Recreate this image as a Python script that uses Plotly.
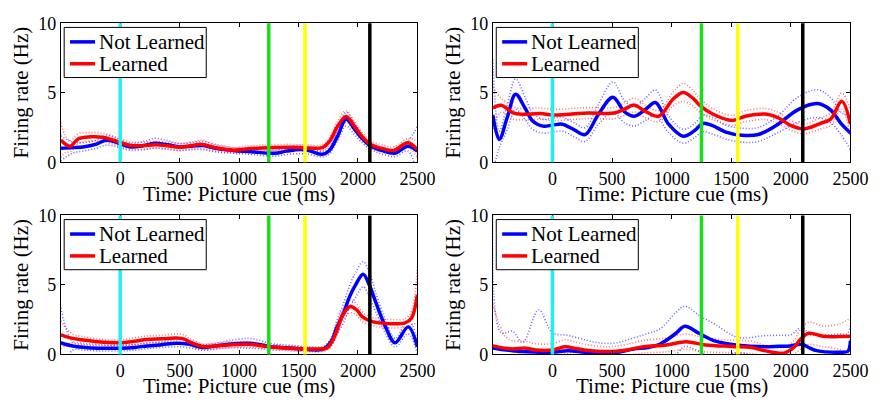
import plotly.graph_objects as go

# ---- shared axis / event settings ----
TIME_TICKS = [0, 500, 1000, 1500, 2000, 2500]
RATE_TICKS = [0, 5, 10]
EVENT_TIMES = [0, 1250, 1555, 2100]
EVENT_COLORS = ["#22f0f0", "#18e018", "#ffff00", "#000000"]
SERIES_NAMES = ["Not Learned", "Learned"]
SERIES_COLORS = ["#0000ff", "#ff0000"]
BAND_COLORS = ["rgba(0,0,255,0.6)", "rgba(255,0,0,0.55)"]

# ---- panel 1 (top left) ----
P1_NL_T = [-500, -400, -300, -200, -120, -40, 0, 90, 200, 290, 400, 500, 600, 700, 800, 950,
           1100, 1300, 1400, 1520, 1600, 1700, 1760, 1830, 1900, 1970, 2030, 2110, 2200, 2310, 2420, 2500]
P1_NL_V = [1.0, 1.05, 1.12, 1.3, 1.58, 1.45, 1.32, 1.1, 1.2, 1.37, 1.25, 1.1, 1.15, 1.2, 1.0, 0.85,
           0.76, 0.64, 0.8, 0.92, 0.8, 0.57, 0.85, 1.9, 3.1, 2.4, 1.75, 1.15, 0.85, 0.65, 1.15, 0.8]
P1_NL_HW = [0.9, 0.4, 0.3, 0.3, 0.35, 0.3, 0.3, 0.25, 0.3, 0.35, 0.3, 0.25, 0.25, 0.3, 0.25, 0.2,
            0.2, 0.2, 0.25, 0.3, 0.25, 0.2, 0.25, 0.35, 0.5, 0.4, 0.3, 0.25, 0.25, 0.25, 0.35, 1.8]
P1_L_T = [-500, -460, -420, -350, -250, -150, -60, 0, 90, 200, 300, 400, 500, 600, 680, 800,
          950, 1100, 1250, 1450, 1600, 1700, 1760, 1830, 1900, 1970, 2030, 2110, 2200, 2300, 2420, 2500]
P1_L_V = [1.6, 1.3, 1.15, 1.7, 1.83, 1.8, 1.6, 1.42, 1.2, 1.2, 1.25, 1.18, 1.08, 1.2, 1.3, 1.05,
          0.87, 0.98, 1.05, 1.08, 1.02, 1.05, 1.5, 2.6, 3.3, 2.6, 1.9, 1.25, 1.0, 0.85, 1.4, 0.9]
P1_L_HW = [1.25, 0.6, 0.4, 0.35, 0.3, 0.3, 0.3, 0.3, 0.25, 0.25, 0.25, 0.25, 0.25, 0.25, 0.3, 0.25,
           0.2, 0.2, 0.2, 0.2, 0.2, 0.2, 0.25, 0.35, 0.4, 0.35, 0.3, 0.25, 0.25, 0.25, 0.3, 0.6]

# ---- panel 2 (top right) ----
P2_NL_T = [-500, -446, -380, -309, -230, -166, -80, 0, 82, 180, 274, 384, 507, 603, 686, 780,
           864, 974, 1097, 1193, 1262, 1344, 1454, 1591, 1728, 1893, 2057, 2222, 2332, 2420, 2500]
P2_NL_V = [3.4, 1.64, 3.2, 4.9, 3.9, 2.97, 2.6, 2.67, 2.74, 2.35, 1.99, 3.42, 4.68, 3.65, 3.31, 3.8,
           4.3, 2.74, 1.87, 2.28, 2.79, 2.63, 2.17, 1.94, 2.0, 2.74, 3.77, 4.22, 3.77, 2.8, 2.1]
P2_NL_HW = [4.0, 0.6, 0.9, 1.1, 0.8, 0.6, 0.5, 0.5, 0.5, 0.5, 0.5, 0.7, 1.1, 0.8, 0.7, 0.8,
            0.9, 0.6, 0.5, 0.5, 0.6, 0.6, 0.5, 0.5, 0.5, 0.6, 0.9, 1.0, 0.9, 0.8, 1.2]
P2_L_T = [-500, -430, -330, -248, -100, 0, 165, 302, 521, 600, 686, 782, 892, 1015, 1097, 1180,
          1234, 1344, 1509, 1619, 1783, 1893, 2002, 2112, 2249, 2332, 2428, 2500]
P2_L_V = [3.9, 4.1, 3.55, 3.45, 3.5, 3.4, 3.47, 3.54, 3.54, 3.8, 4.11, 3.65, 3.31, 4.57, 5.02, 4.6,
          4.11, 3.47, 3.01, 3.31, 3.47, 3.2, 2.63, 2.4, 2.8, 3.08, 4.38, 2.74]
P2_L_HW = [1.5, 0.5, 0.45, 0.4, 0.4, 0.4, 0.4, 0.4, 0.4, 0.45, 0.5, 0.45, 0.4, 0.5, 0.65, 0.55,
           0.5, 0.4, 0.35, 0.4, 0.4, 0.4, 0.35, 0.35, 0.4, 0.45, 0.6, 1.0]

# ---- panel 3 (bottom left) ----
P3_NL_T = [-500, -400, -300, -180, 0, 120, 225, 350, 473, 582, 692, 800, 912, 1077, 1180, 1242,
           1350, 1462, 1599, 1709, 1780, 1819, 1880, 1929, 1980, 2044, 2100, 2148, 2231, 2313, 2423, 2500]
P3_NL_V = [0.84, 0.6, 0.5, 0.45, 0.45, 0.5, 0.61, 0.7, 0.8, 0.73, 0.5, 0.6, 0.73, 0.8, 0.7, 0.57,
           0.5, 0.45, 0.34, 0.39, 1.0, 1.86, 3.0, 4.14, 5.0, 5.77, 4.9, 3.8, 2.0, 0.84, 1.98, 0.55]
P3_NL_HW = [2.5, 0.3, 0.2, 0.2, 0.2, 0.2, 0.2, 0.2, 0.25, 0.25, 0.2, 0.2, 0.25, 0.35, 0.3, 0.25,
            0.2, 0.2, 0.15, 0.15, 0.3, 0.5, 0.7, 0.8, 0.9, 0.9, 0.9, 0.7, 0.5, 0.3, 0.5, 0.5]
P3_L_T = [-500, -400, -324, -187, 0, 120, 225, 350, 473, 540, 582, 692, 800, 912, 1077, 1242,
          1462, 1626, 1736, 1780, 1819, 1870, 1935, 1990, 2038, 2121, 2200, 2286, 2396, 2450, 2500]
P3_L_V = [1.41, 1.15, 1.05, 0.91, 0.84, 0.95, 1.07, 1.12, 1.18, 1.1, 0.9, 0.57, 0.6, 0.68, 0.73, 0.57,
          0.43, 0.39, 0.45, 0.9, 1.64, 2.8, 3.45, 3.2, 2.7, 2.36, 2.25, 2.2, 2.27, 2.6, 4.3]
P3_L_HW = [1.0, 0.3, 0.25, 0.2, 0.2, 0.25, 0.25, 0.25, 0.3, 0.3, 0.25, 0.2, 0.2, 0.2, 0.2, 0.15,
           0.15, 0.15, 0.15, 0.25, 0.35, 0.4, 0.45, 0.4, 0.35, 0.3, 0.3, 0.3, 0.3, 0.5, 2.0]

# ---- panel 4 (bottom right) ----
P4_NL_T = [-500, -430, -335, -250, -115, 0, 132, 269, 400, 543, 680, 800, 900, 1037, 1110, 1229,
           1367, 1559, 1778, 1900, 1998, 2090, 2160, 2217, 2409, 2478, 2500]
P4_NL_V = [0.45, 0.35, 0.27, 0.2, 0.16, 0.16, 0.27, 0.16, 0.12, 0.14, 0.39, 0.5, 0.73, 1.52, 2.02, 1.52,
           0.95, 0.66, 0.55, 0.58, 0.61, 0.73, 0.45, 0.27, 0.16, 0.23, 1.0]
P4_NL_HW = [10.0, 1.2, 1.4, 0.65, 3.05, 1.4, 1.1, 0.9, 0.7, 0.7, 0.8, 1.0, 1.1, 1.5, 1.45, 1.3,
            1.2, 0.55, 0.8, 0.8, 0.8, 1.2, 1.0, 1.1, 1.3, 1.3, 10.0]
P4_L_T = [-500, -400, -335, -225, -143, 0, 104, 200, 269, 461, 626, 763, 955, 1120, 1284, 1504,
          1669, 1778, 1943, 2025, 2080, 2149, 2272, 2400, 2500]
P4_L_V = [0.61, 0.45, 0.39, 0.45, 0.32, 0.32, 0.55, 0.42, 0.32, 0.2, 0.32, 0.55, 0.68, 0.91, 0.68, 0.57,
          0.5, 0.27, 0.09, 0.5, 1.07, 1.52, 1.3, 1.28, 1.3]
P4_L_HW = [3.0, 0.9, 0.6, 0.5, 0.45, 0.45, 0.5, 0.45, 0.4, 0.35, 0.4, 0.45, 0.5, 0.55, 0.5, 0.45,
           0.45, 0.4, 0.4, 0.5, 0.7, 0.8, 0.75, 0.9, 1.3]

PANELS = [
    [(P1_NL_T, P1_NL_V, P1_NL_HW), (P1_L_T, P1_L_V, P1_L_HW)],
    [(P2_NL_T, P2_NL_V, P2_NL_HW), (P2_L_T, P2_L_V, P2_L_HW)],
    [(P3_NL_T, P3_NL_V, P3_NL_HW), (P3_L_T, P3_L_V, P3_L_HW)],
    [(P4_NL_T, P4_NL_V, P4_NL_HW), (P4_L_T, P4_L_V, P4_L_HW)],
]

# ---- layout geometry ----
W, H = 890, 411
COL_PX = [(62, 426), (503, 868)]
ROW_PX = [(14, 160), (216, 362)]

FONT = "Liberation Serif"
TICK_FONT = dict(family=FONT, size=18, color="black")
TITLE_FONT = dict(family=FONT, size=21, color="black")
LEGEND_FONT = dict(family=FONT, size=21, color="black")

# legend box layout, in pixels from the panel's top-left corner
LEG_BOX = (3.5, 4.3, 148.5, 57.0)
LEG_ROWS = (19.5, 42.5)
LEG_LINE_X = (9.5, 35.0)
LEG_TEXT_X = 37.0

fig = go.Figure()
layout_axes = {}
annotations = []
shapes = []

for p, series in enumerate(PANELS):
    row, col = divmod(p, 2)
    (x0px, x1px), (y0px, y1px) = COL_PX[col], ROW_PX[row]
    pw, ph = x1px - x0px, y1px - y0px
    sfx = "" if p == 0 else str(p + 1)
    xref, yref = "x" + sfx, "y" + sfx
    xd, yd = xref + " domain", yref + " domain"

    def fx(px):
        return px / pw

    def fy(py):
        return 1 - py / ph

    # dotted confidence bounds
    for s, (t, v, hw) in enumerate(series):
        upper = [a + b for a, b in zip(v, hw)]
        lower = [a - b for a, b in zip(v, hw)]
        for band in (upper, lower):
            fig.add_trace(go.Scatter(
                x=t, y=band, mode="lines", xaxis=xref, yaxis=yref,
                line=dict(color=BAND_COLORS[s], width=1.6, dash="1px,2px", shape="spline", smoothing=1),
                showlegend=False, hoverinfo="skip"))
    # mean firing rates
    for s, (t, v, hw) in enumerate(series):
        fig.add_trace(go.Scatter(
            x=t, y=v, mode="lines", xaxis=xref, yaxis=yref, name=SERIES_NAMES[s],
            line=dict(color=SERIES_COLORS[s], width=3.5, shape="spline", smoothing=1),
            showlegend=False))

    axis_common = dict(showline=True, linecolor="black", linewidth=1, mirror="ticks",
                       ticks="inside", ticklen=4, tickcolor="black", showgrid=False,
                       zeroline=False, tickfont=TICK_FONT)
    layout_axes["xaxis" + sfx] = dict(axis_common, domain=[x0px / W, x1px / W], range=[-500, 2500],
                                      tickvals=TIME_TICKS, anchor=yref)
    layout_axes["yaxis" + sfx] = dict(axis_common, domain=[1 - y1px / H, 1 - y0px / H], range=[0, 10],
                                      tickvals=RATE_TICKS, anchor=xref)

    # task event markers
    for et, ec in zip(EVENT_TIMES, EVENT_COLORS):
        shapes.append(dict(type="line", xref=xref, yref=yd, x0=et, x1=et, y0=0, y1=1,
                           line=dict(color=ec, width=3.5), layer="above"))

    # legend box with line samples
    bx0, by0, bx1, by1 = LEG_BOX
    shapes.append(dict(type="rect", xref=xd, yref=yd, x0=fx(bx0), x1=fx(bx1), y0=fy(by1), y1=fy(by0),
                       line=dict(color="black", width=1), fillcolor="white", layer="above"))
    for s, ry in enumerate(LEG_ROWS):
        shapes.append(dict(type="line", xref=xd, yref=yd, x0=fx(LEG_LINE_X[0]), x1=fx(LEG_LINE_X[1]),
                           y0=fy(ry), y1=fy(ry), line=dict(color=SERIES_COLORS[s], width=3.5),
                           layer="above"))
        annotations.append(dict(text=SERIES_NAMES[s], xref=xd, yref=yd, x=fx(LEG_TEXT_X), y=fy(ry),
                                xanchor="left", yanchor="middle", showarrow=False, font=LEGEND_FONT))

    # axis titles
    annotations.append(dict(text="Time: Picture cue (ms)", xref=xd, yref=yd,
                            x=0.5, y=0, yshift=-32, xanchor="center", yanchor="middle", showarrow=False,
                            font=TITLE_FONT))
    annotations.append(dict(text="Firing rate (Hz)", xref=xd, yref=yd,
                            x=0, y=0.5, xshift=-40, xanchor="center", yanchor="middle", textangle=-90,
                            showarrow=False, font=TITLE_FONT))

fig.update_layout(
    width=W, height=H, margin=dict(l=0, r=0, t=0, b=0),
    paper_bgcolor="white", plot_bgcolor="white",
    shapes=shapes, annotations=annotations, showlegend=False,
    **layout_axes)

fig.write_html("out.html")
